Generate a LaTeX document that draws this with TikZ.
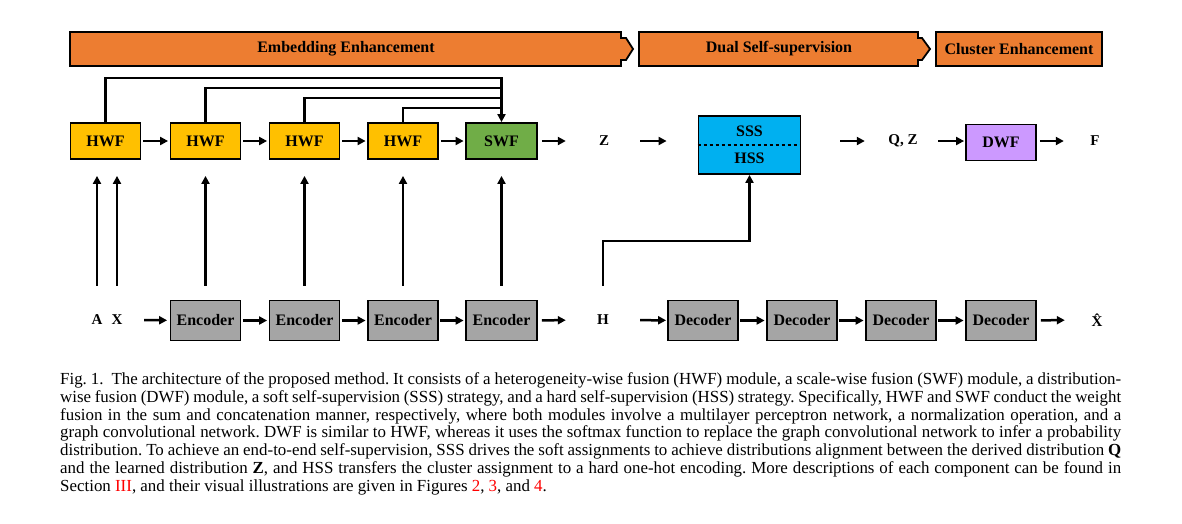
\documentclass[tikz,border=0pt]{standalone}
\usepackage{fontspec}
\setmainfont{Liberation Serif}
\usetikzlibrary{arrows.meta,calc}
\definecolor{bannerOr}{HTML}{ED7D31}
\definecolor{hwfY}{HTML}{FFC000}
\definecolor{swfG}{HTML}{70AD47}
\definecolor{sssB}{HTML}{00B0F0}
\definecolor{dwfP}{HTML}{CC99FF}
\definecolor{codG}{HTML}{A5A5A5}
\definecolor{linkred}{RGB}{255,0,0}
\tikzset{
  box/.style={draw=black, line width=1.8pt, minimum width=70pt, minimum height=36pt, inner sep=0pt,
    font=\fontsize{16}{19}\selectfont\bfseries},
  codbox/.style={box, fill=codG, minimum height=40pt},
  lbl/.style={inner sep=0pt, minimum width=50pt, minimum height=28pt, font=\fontsize{15}{18}\selectfont\bfseries},
  bannerbox/.style={draw=black, line width=1.8pt, fill=bannerOr, line join=miter},
  bannertxt/.style={inner sep=0pt, font=\fontsize{16}{19}\selectfont\bfseries},
  arr/.style={line width=2.5pt, -{Triangle[length=8pt,width=8pt]}},
  plain/.style={line width=2.5pt},
  captxt/.style={anchor=base west, inner sep=0pt, font=\fontsize{16.9}{17.8}\selectfont\frenchspacing},
}
\begin{document}
\begin{tikzpicture}[x=1pt,y=-1pt]
\useasboundingbox (0,0) rectangle (1182,523);

% banners
\draw[bannerbox] (70,32) -- (621,32) -- (621,38) -- (626,38) -- (633,49) -- (626,60) -- (621,60) -- (621,66) -- (70,66) -- cycle;
\draw[bannerbox] (639,32) -- (918,32) -- (918,38) -- (922,38) -- (930,49) -- (922,60) -- (918,60) -- (918,66) -- (639,66) -- cycle;
\draw[bannerbox] (936,32) rectangle (1102,66);
\node[bannertxt] (b1) at (346,49) {Embedding Enhancement};
\node[bannertxt] (b2) at (779,49) {Dual Self-supervision};
\node[bannertxt] (b3) at (1019,49) {Cluster Enhancement};

% top row
\node[box, fill=hwfY] (hwf1) at (105.5,141) {HWF};
\node[box, fill=hwfY] (hwf2) at (205.5,141) {HWF};
\node[box, fill=hwfY] (hwf3) at (304.5,141) {HWF};
\node[box, fill=hwfY] (hwf4) at (403,141) {HWF};
\node[box, fill=swfG, minimum width=71pt] (swf) at (501.5,141) {SWF};
\node[lbl] (z) at (604,141) {Z};
\node[draw=black, line width=1.8pt, fill=sssB, minimum width=102pt, minimum height=58pt, inner sep=0pt] (sss) at (749.5,145) {};
\draw[dashed, line width=1.6pt] (sss.west) -- (sss.east);
\node[bannertxt] (ssst) at (749.5,131) {SSS};
\node[bannertxt] (hsst) at (749.5,158) {HSS};
\node[lbl] (qz) at (903,141) {Q, Z};
\node[box, fill=dwfP] (dwf) at (1001,142.5) {DWF};
\node[lbl] (f) at (1095,141) {F};

% bottom row
\node[lbl, minimum width=0pt] (a) at (97,320) {A};
\node[lbl] (x) at (117,320) {X};
\node[codbox] (enc1) at (205.5,320.5) {Encoder};
\node[codbox] (enc2) at (304.5,320.5) {Encoder};
\node[codbox] (enc3) at (403,320.5) {Encoder};
\node[codbox, minimum width=71pt] (enc4) at (501.5,320.5) {Encoder};
\node[lbl] (h) at (603,320) {H};
\node[codbox] (dec1) at (703,320.5) {Decoder};
\node[codbox] (dec2) at (802,320.5) {Decoder};
\node[codbox] (dec3) at (901,320.5) {Decoder};
\node[codbox] (dec4) at (1001,320.5) {Decoder};
\node[lbl] (xh) at (1097,320) {\^{X}};

% top row arrows
\draw[arr, shorten <=2pt, shorten >=1.5pt] (hwf1) -- (hwf2);
\draw[arr, shorten <=2pt, shorten >=1.5pt] (hwf2) -- (hwf3);
\draw[arr, shorten <=2pt, shorten >=1.5pt] (hwf3) -- (hwf4);
\draw[arr, shorten <=2pt, shorten >=1.5pt] (hwf4) -- (swf);
\draw[arr, shorten <=4pt, shorten >=13pt] (swf) -- (z);
\draw[arr, shorten <=11pt, shorten >=31pt] (z) -- (sss.west |- z);
\draw[arr, shorten <=39pt, shorten >=13pt] (sss.east |- qz) -- (qz);
\draw[arr, shorten <=10pt, shorten >=1pt] (qz) -- (dwf.west |- qz);
\draw[arr, shorten <=3pt, shorten >=6pt] (dwf.east |- f) -- (f);

% skip connections
\draw[plain, shorten >=6pt] (hwf1.north) -- ++(0,-44) -| (swf.north);
\draw[plain, shorten >=6pt] (hwf2.north) -- ++(0,-34) -| (swf.north);
\draw[plain, shorten >=6pt] (hwf3.north) -- ++(0,-24) -| (swf.north);
\draw[arr] (hwf4.north) -- ++(0,-14) -| (swf.north);

% bottom row arrows
\draw[arr, shorten <=2pt, shorten >=2.5pt] (x) -- (enc1);
\draw[arr, shorten <=1.5pt, shorten >=1.5pt] (enc1) -- (enc2);
\draw[arr, shorten <=1.5pt, shorten >=1.5pt] (enc2) -- (enc3);
\draw[arr, shorten <=1.5pt, shorten >=1.5pt] (enc3) -- (enc4);
\draw[arr, shorten <=4pt, shorten >=12pt] (enc4) -- (h);
\draw[arr, shorten <=12pt, shorten >=1pt] (h) -- (dec1);
\draw[arr, shorten <=1.5pt, shorten >=1.5pt] (dec1) -- (dec2);
\draw[arr, shorten <=1.5pt, shorten >=1.5pt] (dec2) -- (dec3);
\draw[arr, shorten <=1.5pt, shorten >=1.5pt] (dec3) -- (dec4);
\draw[arr, shorten <=4pt, shorten >=7pt] (dec4) -- (xh);

% vertical arrows
\draw[arr, shorten <=20pt, shorten >=16pt] (a.north) -- (a.north |- hwf1.south);
\draw[arr, shorten <=20pt, shorten >=16pt] (x.north) -- (x.north |- hwf1.south);
\draw[arr, shorten <=14pt, shorten >=16pt] (enc1.north) -- (hwf2.south);
\draw[arr, shorten <=14pt, shorten >=16pt] (enc2.north) -- (hwf3.south);
\draw[arr, shorten <=14pt, shorten >=16pt] (enc3.north) -- (hwf4.south);
\draw[arr, shorten <=14pt, shorten >=16pt] (enc4.north) -- (swf.south);
\draw[arr, shorten <=20pt] (h.north) -- ++(0,-65) -| (sss.south);

% caption
\node[captxt] (c1) at (60,384.5) {\makebox[1061pt][s]{Fig. 1.\ \ The architecture of the proposed method. It consists of a heterogeneity-wise fusion (HWF) module, a scale-wise fusion (SWF) module, a distribution-}};
\node[captxt] (c2) at (60,402.3) {\makebox[1061pt][s]{wise fusion (DWF) module, a soft self-supervision (SSS) strategy, and a hard self-supervision (HSS) strategy. Specifically, HWF and SWF conduct the weight}};
\node[captxt] (c3) at (60,420.1) {\makebox[1061pt][s]{fusion in the sum and concatenation manner, respectively, where both modules involve a multilayer perceptron network, a normalization operation, and a}};
\node[captxt] (c4) at (60,437.9) {\makebox[1061pt][s]{graph convolutional network. DWF is similar to HWF, whereas it uses the softmax function to replace the graph convolutional network to infer a probability}};
\node[captxt] (c5) at (60,455.7) {\makebox[1061pt][s]{distribution. To achieve an end-to-end self-supervision, SSS drives the soft assignments to achieve distributions alignment between the derived distribution \textbf{Q}}};
\node[captxt] (c6) at (60,473.5) {\makebox[1061pt][s]{and the learned distribution \textbf{Z}, and HSS transfers the cluster assignment to a hard one-hot encoding. More descriptions of each component can be found in}};
\node[captxt] (c7) at (60,491.3) {Section \textcolor{linkred}{III}, and their visual illustrations are given in Figures \textcolor{linkred}{2}, \textcolor{linkred}{3}, and \textcolor{linkred}{4}.};
\end{tikzpicture}
\end{document}
